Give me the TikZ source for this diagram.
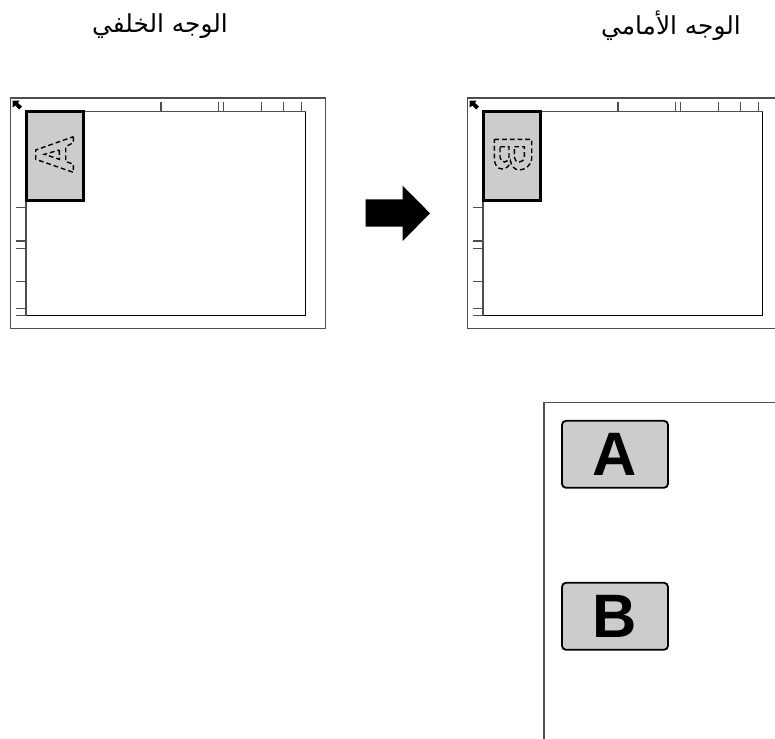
\documentclass[tikz,border=0pt]{standalone}
\usepackage{fontspec}
\usepackage{xcolor}
\usetikzlibrary{positioning}
\TeXXeTstate=1
\newfontfamily\arabicfont[Script=Arabic]{DejaVu Sans}
\newfontfamily\letterfont{Liberation Sans}
\definecolor{SheetGray}{HTML}{CCCCCC}
\definecolor{EdgeGray}{HTML}{4E4E4E}
\tikzset{
  edge/.style={draw=EdgeGray, line width=1.6*0.75pt},
  tick/.style={draw=EdgeGray, line width=1.4*0.75pt},
  trim/.style={draw=black, line width=1.3*0.75pt},
  sheet/.style={draw=black, fill=SheetGray, line width=3*0.75pt},
  ghost/.style={draw=black, line width=1.4*0.75pt, dash pattern=on 3.6pt off 2.2pt},
  title/.style={font=\arabicfont\fontsize{18.6}{22}\selectfont, inner sep=0pt},
  keycap/.style={draw=black, fill=SheetGray, rounded corners=3pt, line width=1.8*0.75pt,
                 minimum width=106*0.75pt, minimum height=67*0.75pt, inner sep=0pt,
                 font=\letterfont\bfseries\fontsize{46}{46}\selectfont}
}
\begin{document}
\begin{tikzpicture}[x=0.75pt, y=-0.75pt]
  \useasboundingbox (0,0) rectangle (775,739);
  \clip (0,0) rectangle (775,739);
  \node[title] (back) at (160,26) {\beginR الوجه الخلفي\endR};
  \node[title] (front) at (671,26) {\beginR الوجه الأمامي\endR};
  % the two glass plates
  \foreach \platex in {0,457} {
    \begin{scope}[xshift=\platex*0.75pt]
      \draw[edge] (10.5,98) rectangle (325.5,328.5);
      \draw[trim] (26,315.5) -- (305.5,315.5) -- (305.5,111.5);
      \draw[edge] (305.5,111.5) -- (26,111.5) -- (26,315.5);
      \foreach \tickx in {161,218.7,223.3,261.3,283.3,301.7}
        \draw[tick] (\tickx,101.5) -- (\tickx,111.5);
      \foreach \ticky in {207.3,241,248.3,281.7,308.3,315.3}
        \draw[tick] (16,\ticky) -- (26,\ticky);
      \draw[sheet] (26,111.5) rectangle (83,200);
      \fill (12.5,100.5) -- (19.5,100.5) -- (18,103) -- (22,106.5) -- (19,109.5)
        -- (15.5,105.5) -- (12.5,107.5) -- cycle;
    \end{scope}
  }
  % dashed letters on the sheets
  \draw[ghost] (73.3,136.7) -- (73.3,142.7) -- (65.7,146.7) -- (65.7,161.7) -- (73.3,164)
    -- (73.3,172.3) -- (35.7,159.3) -- (35.7,150) -- cycle;
  \draw[ghost] (59.3,150) -- (59.3,159.3) -- (44.3,154.3) -- cycle;
  \draw[ghost] (494.3,139.3) -- (531.7,139.3) -- (531.7,158)
    .. controls (531.7,166) and (524,170) .. (519,170)
    .. controls (515,170) and (511,166) .. (510.5,161)
    .. controls (510,166) and (506,169) .. (502,169)
    .. controls (497,169) and (494.3,164) .. (494.3,158) -- cycle;
  \draw[ghost] (500,146.7) -- (509,146.7) -- (509,157)
    .. controls (509,160) and (507,162) .. (504.5,162)
    .. controls (502,162) and (500,160) .. (500,157) -- cycle;
  \draw[ghost] (514.3,146.7) -- (524.3,146.7) -- (524.3,157)
    .. controls (524.3,160) and (522,162) .. (519.3,162)
    .. controls (516.5,162) and (514.3,160) .. (514.3,157) -- cycle;
  % big arrow
  \fill (365.7,199.3) -- (402.7,199.3) -- (402.7,185.7) -- (430,213.3) -- (402.7,241)
    -- (402.7,226.7) -- (365.7,226.7) -- cycle;
  % panel
  \draw[edge] (775,402.5) -- (544,402.5) -- (544,739);
  \node[keycap] (keya) at (615,454.3) {A};
  \node[keycap] (keyb) at (615,616.3) {B};
\end{tikzpicture}
\end{document}
